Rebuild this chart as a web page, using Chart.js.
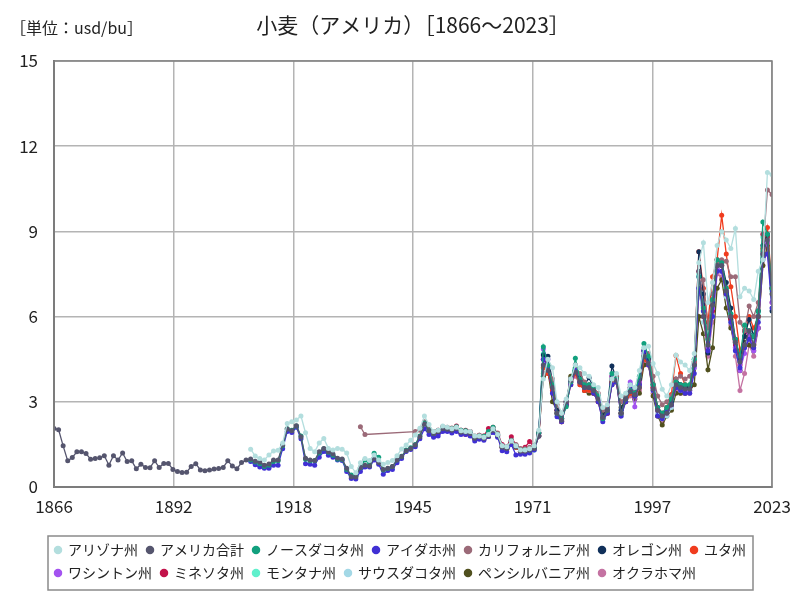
<!DOCTYPE html>
<html><head><meta charset="utf-8">
<script src="https://cdn.jsdelivr.net/npm/chart.js@4/dist/chart.umd.min.js"></script>
<style>html,body{margin:0;padding:0;background:#fff;}#wrap{width:800px;height:600px;position:relative;}</style>
</head><body><div id="wrap"><canvas id="c" width="800" height="600"></canvas></div>
<script>
const titleText = '小麦（アメリカ）［1866～2023］';
const unitText = '［単位：usd/bu］';
const xTickLabels = [1866, 1892, 1918, 1945, 1971, 1997, 2023];
const yMax = 15, yStep = 3;

const seriesNames = ['アリゾナ州','アメリカ合計','ノースダコタ州','アイダホ州','カリフォルニア州','オレゴン州','ユタ州','ワシントン州','ミネソタ州','モンタナ州','サウスダコタ州','ペンシルバニア州','オクラホマ州'];
const seriesColors = ['#b3dede','#55556e','#12a07e','#4030d4','#9b6a78','#10305a','#f03c1e','#a352f0','#c2124a','#60f0cc','#a3d8e6','#50501e','#c472a2'];

// start years of each series
const startYears = [1909, 1866, 1909, 1909, 1933, 1949, 1949, 1949, 1949, 1949, 1949, 1949, 1949];

const usTotal = [
 2.06,2.02,1.45,0.92,1.04,1.24,1.24,1.18,0.98,1.00,
 1.03,1.10,0.77,1.10,0.95,1.20,0.90,0.92,0.64,0.80,
 0.69,0.68,0.92,0.69,0.83,0.83,0.62,0.55,0.51,0.52,
 0.72,0.82,0.60,0.57,0.60,0.63,0.65,0.69,0.92,0.74,
 0.64,0.86,0.95,0.99,0.91,0.87,0.77,0.81,0.95,0.95,
 1.48,2.04,1.98,2.16,1.77,1.01,0.95,0.93,1.24,1.36,
 1.24,1.16,1.01,0.99,0.66,0.36,0.35,0.69,0.77,0.74,
 1.01,0.86,0.62,0.66,0.72,0.95,1.07,1.28,1.36,1.48,
 1.77,2.22,1.98,1.88,1.95,2.05,2.03,2.00,2.06,1.93,
 1.93,1.88,1.72,1.77,1.72,1.80,2.00,1.82,1.40,1.36,
 1.60,1.42,1.26,1.26,1.30,1.36,1.80,4.30,4.10,3.50,
 2.60,2.35,3.00,3.75,4.05,3.70,3.50,3.50,3.40,3.10,
 2.45,2.70,3.80,3.75,2.60,3.10,3.35,3.25,3.50,4.60,
 4.35,3.45,2.70,2.50,2.60,2.90,3.60,3.50,3.45,3.45,
 4.30,7.60,6.00,5.00,6.40,7.80,7.80,6.90,6.00,5.10,
 4.40,5.00,5.50,5.00,6.00,8.20,8.70,6.80
];
const arizona = [
 1.33,1.09,1.00,0.95,1.13,1.27,1.29,1.55,2.24,2.30,
 2.36,2.50,1.91,1.36,1.24,1.55,1.71,1.36,1.30,1.36,
 1.33,1.20,0.72,0.50,0.85,1.00,0.93,1.13,0.95,0.80,
 0.86,0.93,1.10,1.34,1.48,1.65,1.83,2.07,2.50,2.20,
 1.95,2.00,2.15,2.10,2.05,2.10,1.98,1.95,1.95,1.80,
 1.80,1.75,1.85,2.05,1.85,1.45,1.42,1.62,1.45,1.30,
 1.30,1.35,1.45,2.00,3.80,4.50,4.20,3.00,2.60,3.10,
 3.80,4.30,4.20,4.00,3.90,3.60,3.50,2.80,2.90,3.80,
 4.00,3.20,3.30,3.60,3.50,4.10,4.90,4.96,4.35,4.00,
 3.44,3.20,3.60,4.65,4.40,4.30,4.10,4.70,7.90,8.60,
 6.50,7.20,8.50,9.00,8.70,8.40,9.10,6.70,7.00,6.90,
 6.60,7.60,8.00,11.07,11.00
];
const northDakota = [
 0.95,0.88,0.82,0.72,0.77,0.90,0.92,1.45,2.05,2.00,
 2.15,1.80,0.98,0.92,0.92,1.20,1.35,1.22,1.12,0.98,
 0.97,0.62,0.42,0.38,0.68,0.95,0.80,1.19,1.05,0.60,
 0.65,0.72,0.95,1.08,1.30,1.38,1.50,1.80,2.25,2.00,
 1.88,1.98,2.08,2.05,2.05,2.12,2.00,1.98,1.92,1.75,
 1.80,1.78,1.95,2.10,1.85,1.42,1.38,1.62,1.42,1.30,
 1.30,1.30,1.38,1.90,4.94,4.30,3.60,2.60,2.40,2.83,
 3.70,4.53,3.80,3.60,3.60,3.50,3.20,2.40,2.70,4.00,
 3.80,2.60,3.10,3.40,3.30,3.90,5.05,4.60,3.60,2.80,
 2.60,2.80,3.10,3.70,3.60,3.60,3.60,4.50,7.40,6.30,
 5.20,6.60,8.00,7.90,7.00,6.10,5.20,4.60,5.70,5.50,
 5.30,6.20,9.33,8.90,7.00
];
const idaho = [
 0.90,0.78,0.70,0.66,0.66,0.77,0.77,1.35,1.95,1.92,
 2.10,1.70,0.82,0.80,0.77,1.05,1.25,1.12,1.05,0.95,
 0.93,0.55,0.30,0.28,0.55,0.70,0.70,0.95,0.80,0.45,
 0.58,0.62,0.85,1.00,1.25,1.32,1.42,1.70,2.05,1.85,
 1.75,1.80,1.95,1.95,1.90,1.95,1.85,1.85,1.80,1.62,
 1.68,1.65,1.78,1.92,1.75,1.28,1.24,1.50,1.13,1.15,
 1.15,1.20,1.30,1.80,4.50,4.20,3.30,2.47,2.30,2.90,
 3.60,4.10,3.70,3.50,3.50,3.30,3.00,2.30,2.60,3.60,
 3.70,2.50,3.00,3.60,3.20,3.60,4.80,4.30,3.40,2.50,
 2.40,2.70,2.90,3.50,3.40,3.30,3.30,4.00,7.00,6.20,
 4.80,6.00,7.60,7.60,6.80,5.80,4.80,4.20,4.90,5.20,
 4.90,5.80,8.00,8.20,6.30
];
const california = [
 2.12,1.85,null,null,null,null,null,null,null,null,null,null,1.95,
 2.00,2.30,2.05,1.95,2.00,2.12,2.10,2.08,2.10,2.00,
 1.98,1.95,1.80,1.82,1.80,1.90,2.05,1.90,1.45,1.42,
 1.65,1.50,1.35,1.35,1.40,1.45,1.90,4.00,4.20,3.80,
 2.90,2.60,3.00,3.80,4.20,4.00,3.70,3.60,3.50,3.30,
 2.70,2.80,3.60,3.90,3.00,3.20,3.50,3.40,3.60,4.60,
 4.70,3.90,3.20,2.90,3.00,3.20,3.80,3.90,3.80,3.90,
 4.40,6.80,7.30,5.60,6.80,7.80,8.00,7.95,7.40,7.40,
 5.80,5.50,6.37,6.00,6.50,8.30,10.46,10.30
];
const oregon = [
 1.90,1.95,2.05,2.05,2.00,2.05,1.95,1.95,1.90,1.75,
 1.80,1.75,1.85,2.00,1.85,1.45,1.40,1.65,1.45,1.30,
 1.30,1.35,1.40,1.90,4.65,4.60,3.70,2.70,2.40,3.00,
 3.80,4.10,3.90,3.60,3.85,3.50,3.20,2.50,2.80,4.26,
 3.80,2.70,3.20,3.50,3.20,3.80,4.80,4.50,3.60,2.80,
 2.60,2.70,3.00,3.80,3.60,3.50,3.50,4.30,8.28,6.80,
 4.72,6.50,7.80,7.90,7.20,6.30,5.20,4.50,5.30,5.90,
 5.30,6.20,8.50,8.90,6.20
];
const utah = [
 1.85,1.90,2.00,2.00,1.95,2.00,1.90,1.85,1.82,1.70,
 1.72,1.70,1.80,1.95,1.80,1.40,1.35,1.55,1.40,1.25,
 1.25,1.30,1.35,1.80,4.20,4.00,3.40,2.60,2.30,2.90,
 3.60,4.00,3.60,3.40,3.40,3.30,3.00,2.40,2.60,3.70,
 3.70,2.60,3.00,3.30,3.20,3.50,4.50,4.30,3.50,2.80,
 2.60,2.80,3.26,4.63,4.00,3.60,3.50,4.40,8.28,7.00,
 5.80,7.40,8.00,9.57,8.20,7.05,6.00,4.80,5.30,6.00,
 5.60,6.00,8.40,9.14,7.00
];
const washington = [
 1.90,1.95,2.00,2.00,1.98,2.02,1.90,1.90,1.85,1.72,
 1.75,1.72,1.80,1.95,1.80,1.40,1.38,1.60,1.42,1.25,
 1.25,1.30,1.35,1.90,4.86,4.50,3.60,2.60,2.40,3.00,
 3.70,4.10,3.80,3.50,3.50,3.40,3.10,2.40,2.70,3.90,
 3.80,2.60,3.10,3.70,2.83,3.70,4.70,4.40,3.50,2.70,
 2.50,2.60,2.90,3.60,3.50,3.40,3.40,4.20,7.40,6.40,
 4.90,6.30,7.70,7.60,6.90,6.00,4.90,4.10,4.70,5.40,
 4.80,5.60,8.20,8.60,6.50
];
const minnesota = [
 1.90,2.00,2.10,2.08,2.05,2.15,2.00,2.00,1.95,1.75,
 1.82,1.80,2.06,2.10,1.88,1.50,1.40,1.77,1.48,1.35,
 1.40,1.60,1.40,1.90,4.50,4.30,3.50,2.70,2.40,2.90,
 3.70,4.30,3.70,3.50,3.50,3.40,3.10,2.40,2.60,3.90,
 3.70,2.60,3.10,3.30,3.30,3.70,4.80,4.40,3.50,2.70,
 2.50,2.70,2.90,3.50,3.50,3.50,3.50,4.40,7.60,6.00,
 4.80,6.20,8.00,7.80,6.80,5.90,5.00,4.30,5.50,5.30,
 5.00,6.00,8.90,8.80,7.00
];
const montana = [
 1.88,1.95,2.05,2.02,2.00,2.05,1.93,1.92,1.88,1.72,
 1.78,1.73,1.85,2.02,1.83,1.40,1.35,1.60,1.42,1.28,
 1.28,1.25,1.30,1.80,4.70,4.30,3.60,2.60,2.40,2.90,
 3.80,4.20,3.80,3.60,3.60,3.50,3.20,2.40,2.70,3.90,
 3.80,2.60,3.10,3.40,3.20,3.80,4.90,4.60,3.60,2.80,
 2.60,2.80,3.00,3.70,3.60,3.60,3.60,4.50,7.50,6.20,
 5.00,6.40,7.90,7.80,7.00,6.10,5.10,4.50,5.50,5.50,
 5.10,6.10,8.80,8.80,6.90
];
const southDakota = [
 1.95,1.98,2.05,2.05,2.02,2.08,1.95,1.95,1.90,1.75,
 1.78,1.76,1.85,2.00,1.85,1.45,1.42,1.60,1.45,1.30,
 1.30,1.35,1.45,1.90,4.20,4.10,3.50,2.50,2.30,2.90,
 3.70,4.00,3.70,3.50,3.40,3.40,3.00,2.40,2.60,3.80,
 3.70,2.50,3.10,3.30,3.20,3.60,4.60,4.40,3.40,2.60,
 2.40,2.50,2.80,3.50,3.40,3.40,3.40,4.20,7.00,5.80,
 4.80,6.00,7.80,7.60,6.70,5.80,4.80,4.20,5.00,5.30,
 4.80,5.90,8.40,8.60,6.80
];
const pennsylvania = [
 1.90,1.95,2.05,2.00,1.95,2.00,1.90,1.90,1.85,1.72,
 1.75,1.70,1.78,1.95,1.80,1.40,1.35,1.58,1.40,1.25,
 1.25,1.30,1.35,1.80,3.90,4.10,3.00,2.70,2.30,3.00,
 3.90,4.00,3.70,3.40,3.30,3.30,3.00,2.60,2.70,3.60,
 3.80,2.80,3.00,3.30,3.10,3.30,4.30,4.40,3.20,2.50,
 2.18,2.50,2.70,3.30,3.30,3.30,3.40,3.60,6.00,5.40,
 4.13,4.90,7.00,7.30,6.30,5.60,4.90,4.10,5.10,5.00,
 4.80,5.60,7.80,8.50,7.00
];
const oklahoma = [
 1.85,1.92,2.00,2.00,1.95,2.00,1.90,1.90,1.85,1.70,
 1.75,1.70,1.78,1.95,1.80,1.38,1.33,1.58,1.40,1.25,
 1.25,1.30,1.33,1.80,3.90,4.00,3.40,2.60,2.30,2.90,
 3.70,3.90,3.60,3.40,3.40,3.30,3.00,2.40,2.60,3.70,
 3.70,2.50,3.00,3.20,3.10,3.40,4.40,4.30,3.30,2.50,
 2.30,2.60,2.80,3.40,3.30,3.30,3.30,4.20,6.80,6.20,
 4.60,5.80,7.50,7.40,6.80,5.70,4.60,3.40,4.00,5.00,
 4.60,5.60,7.80,8.40,6.50
];

const seriesValues = [arizona, usTotal, northDakota, idaho, california, oregon, utah, washington, minnesota, montana, southDakota, pennsylvania, oklahoma];
const firstYear = 1866, lastYear = 2023;

const datasets = seriesNames.map((name, i) => ({
  label: name,
  data: seriesValues[i].map((v, k) => ({x: startYears[i] + k, y: v})),
  borderColor: seriesColors[i],
  backgroundColor: seriesColors[i],
  pointBackgroundColor: seriesColors[i],
  pointBorderColor: seriesColors[i],
  borderWidth: 1.3,
  pointRadius: 2.5,
  pointBorderWidth: 0,
  spanGaps: true,
  tension: 0
}));

const FONT = '"Noto Sans CJK JP", "Noto Sans", sans-serif';

const decor = {
  id: 'decor',
  afterLayout(chart) {
    // legend starts under the plot, like the reference
    chart.legend.left = 46;
  },
  beforeDraw(chart) {
    const ctx = chart.ctx;
    ctx.save();
    ctx.fillStyle = '#fff';
    ctx.fillRect(0, 0, chart.width, chart.height);
    ctx.restore();
  },
  afterDraw(chart) {
    const ctx = chart.ctx;
    const a = chart.chartArea;
    ctx.save();
    ctx.strokeStyle = '#808080';
    ctx.lineWidth = 1.5;
    ctx.strokeRect(a.left, a.top, a.right - a.left, a.bottom - a.top);
    // title
    ctx.fillStyle = '#222';
    ctx.textBaseline = 'middle';
    ctx.textAlign = 'center';
    ctx.font = '21px ' + FONT;
    ctx.fillText(titleText, 413, 25);
    ctx.textAlign = 'left';
    ctx.font = '16px ' + FONT;
    ctx.fillText(unitText, 10, 28);
    // legend box
    const hb = chart.legend.legendHitBoxes;
    if (hb && hb.length) {
      let l = Infinity, r = -Infinity, t = Infinity, b = -Infinity;
      hb.forEach(h => { l = Math.min(l, h.left); r = Math.max(r, h.left + h.width); t = Math.min(t, h.top); b = Math.max(b, h.top + h.height); });
      ctx.strokeStyle = '#8a8a8a';
      ctx.lineWidth = 1.5;
      ctx.strokeRect(l - 7, t - 7, (r + 7) - (l - 7), (b + 10) - (t - 7));
    }
    ctx.restore();
  }
};

new Chart(document.getElementById('c'), {
  type: 'line',
  data: { datasets },
  options: {
    responsive: false,
    animation: false,
    layout: { padding: { left: 10, right: 28, top: 61, bottom: 10 } },
    plugins: {
      legend: {
        position: 'bottom',
        align: 'start',
        labels: {
          usePointStyle: true,
          pointStyle: 'circle',
          boxWidth: 6,
          boxHeight: 6,
          padding: 9,
          color: '#222',
          font: { family: FONT, size: 14 }
        }
      },
      tooltip: { enabled: false }
    },
    scales: {
      x: {
        type: 'linear',
        min: firstYear,
        max: lastYear,
        afterBuildTicks(scale) {
          scale.ticks = xTickLabels.map((lab, k) => ({ value: firstYear + k * (lastYear - firstYear) / (xTickLabels.length - 1) }));
        },
        afterFit(scale) { scale.height = 47; },
        ticks: {
          autoSkip: false,
          maxRotation: 0,
          color: '#222',
          font: { family: FONT, size: 17 },
          padding: 9,
          callback: (v, i) => String(xTickLabels[i])
        },
        grid: { color: '#b4b4b4', lineWidth: 1.5, drawTicks: false },
        border: { color: '#707070', width: 2 }
      },
      y: {
        min: 0,
        max: yMax,
        afterFit(scale) { scale.width = 44; },
        ticks: {
          stepSize: yStep,
          color: '#222',
          font: { family: FONT, size: 17 },
          padding: 16
        },
        grid: { color: '#b4b4b4', lineWidth: 1.5, drawTicks: false },
        border: { color: '#707070', width: 2 }
      }
    }
  },
  plugins: [decor]
});
</script>
</body></html>
